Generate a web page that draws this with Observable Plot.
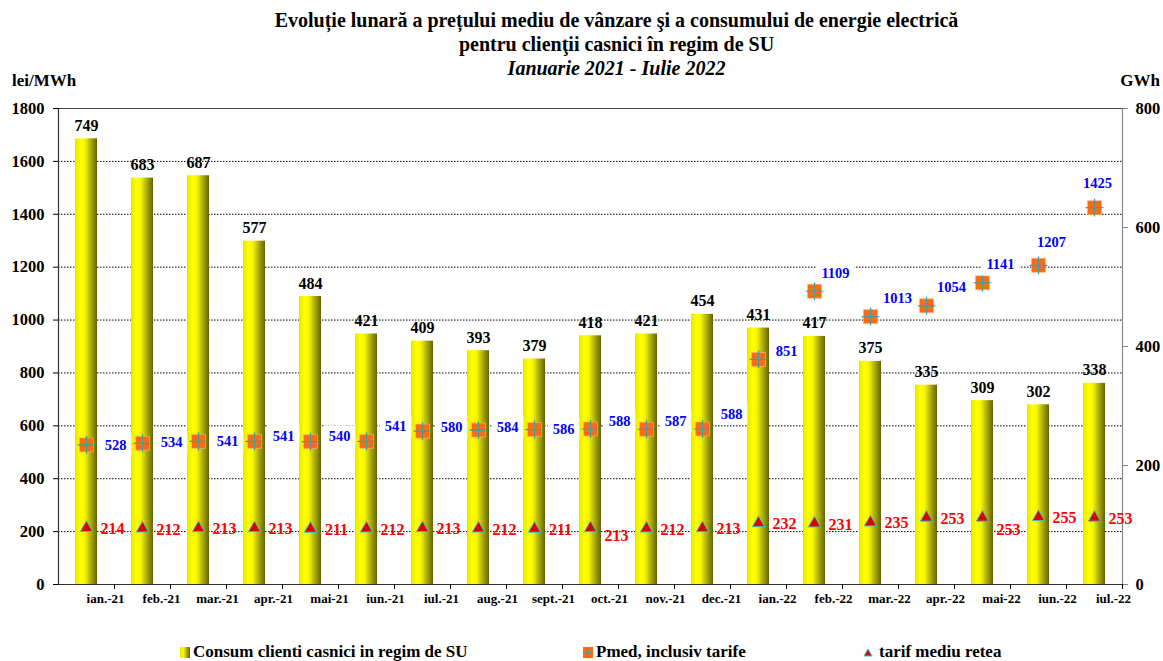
<!DOCTYPE html>
<html>
<head>
<meta charset="utf-8">
<script src="https://cdn.jsdelivr.net/npm/d3@7"></script>
<script src="https://cdn.jsdelivr.net/npm/@observablehq/plot@0.6"></script>
<style>
  body { margin: 0; background: #fff; font-family: "Liberation Serif", "DejaVu Serif", "Times New Roman", serif; }
  #wrap { position: relative; width: 1163px; height: 661px; overflow: hidden; }
  #title { position: absolute; top: 8px; left: 70px; right: 0; text-align: center;
           font-weight: bold; font-size: 20px; line-height: 24px; color: #000; }
  #title .sub { font-style: italic; }
  .unit { position: absolute; top: 71px; font-weight: bold; font-size: 17px; }
  #chart { position: absolute; top: 72px; left: 0; }
  #legend { position: absolute; top: 642px; left: 0; width: 1163px; height: 20px;
            font-weight: bold; font-size: 17px; }
  #legend .item { position: absolute; display: flex; align-items: center; gap: 2px; white-space: nowrap; }
</style>
</head>
<body>
<div id="wrap">
  <div id="title">
    <div>Evoluție lunară a prețului mediu de vânzare şi a consumului de energie electrică</div>
    <div>pentru clienţii casnici în regim de SU</div>
    <div class="sub">Ianuarie 2021 - Iulie 2022</div>
  </div>
  <div class="unit" style="left:12px">lei/MWh</div>
  <div class="unit" style="right:3px">GWh</div>
  <div id="chart"></div>
  <div id="legend">
    <div class="item" style="left:179px">
      <svg width="12" height="12"><defs><linearGradient id="lgBar" x1="0" x2="1" y1="0" y2="0">
        <stop offset="0" stop-color="#e6e600"/><stop offset="0.3" stop-color="#ffff00"/><stop offset="1" stop-color="#636300"/></linearGradient></defs>
        <rect x="1" y="1" width="10" height="11" fill="url(#lgBar)"/></svg>
      <span>Consum clienti casnici in regim de SU</span>
    </div>
    <div class="item" style="left:582px">
      <svg width="12" height="12"><rect x="1" y="1" width="10" height="11" fill="#ff6a13"/>
        <path d="M6,3V10M2.5,6.5H9.5" stroke="#3ca0a0" stroke-width="1.3"/></svg>
      <span>Pmed, inclusiv tarife</span>
    </div>
    <div class="item" style="left:861px">
      <svg width="16" height="12"><path d="M7,3L11,10H3Z" fill="#e00000" stroke="#33cccc" stroke-width="1"/></svg>
      <span>tarif mediu retea</span>
    </div>
  </div>
</div>
<script>
// Months, January 2021 – July 2022
const months = ["ian.-21","feb.-21","mar.-21","apr.-21","mai-21","iun.-21","iul.-21","aug.-21",
  "sept.-21","oct.-21","nov.-21","dec.-21","ian.-22","feb.-22","mar.-22","apr.-22","mai-22","iun.-22","iul.-22"];
// Household consumption under universal service (GWh, right axis)
const consum = [749,683,687,577,484,421,409,393,379,418,421,454,431,417,375,335,309,302,338];
// Average price incl. tariffs (lei/MWh, left axis)
const pmed = [528,534,541,541,540,541,580,584,586,588,587,588,851,1109,1013,1054,1141,1207,1425];
// Average network tariff (lei/MWh, left axis)
const tarif = [214,212,213,213,211,212,213,212,211,213,212,213,232,231,235,253,253,255,253];

const leftTicks = [0,200,400,600,800,1000,1200,1400,1600,1800];
const rightTicks = [0,200,400,600,800];
const gwhToLei = 1800 / 800;   // right axis is drawn against the left scale

// hand-placed value labels
const pmedNudge = {
  "ian.-21":[29,0],"feb.-21":[29,-1],"mar.-21":[29,0],"apr.-21":[29,-5],"mai-21":[29,-5],
  "iun.-21":[29,-15],"iul.-21":[29,-4],"aug.-21":[29,-3],"sept.-21":[29,0],"oct.-21":[29,-8],
  "nov.-21":[29,-8],"dec.-21":[29,-15],"ian.-22":[28,-8],"feb.-22":[21,-18],"mar.-22":[27,-18],
  "apr.-22":[25,-18],"mai-22":[18,-18],"iun.-22":[13,-23],"iul.-22":[3,-24]
};
const tarifNudge = {"oct.-21": 7, "mai-22": 11};

const rows = months.map((m, i) => ({
  month: m, consum: consum[i], pmed: pmed[i], tarif: tarif[i],
  pdx: pmedNudge[m][0], pdy: pmedNudge[m][1], tdy: 1 + (tarifNudge[m] || 0)
}));

// cylinder-like shading for the bars
const barGradient = () => {
  const defs = d3.create("svg:defs");
  const g = defs.append("linearGradient").attr("id", "barFill")
    .attr("x1", 0).attr("x2", 1).attr("y1", 0).attr("y2", 0);
  [[0, "#e6e600"], [0.25, "#ffff00"], [0.45, "#f4f400"], [1, "#636300"]]
    .forEach(([o, c]) => g.append("stop").attr("offset", o).attr("stop-color", c));
  return defs.node();
};

// shift each rendered label by its own offset
const nudge = (fx, fy, cls) => (index, scales, values, dims, ctx, next) => {
  const g = next(index, scales, values, dims, ctx);
  if (cls) g.setAttribute("class", (g.getAttribute("class") || "") + " " + cls);
  d3.select(g).selectAll("text").each(function(i) {
    const t = d3.select(this).attr("transform") || "";
    d3.select(this).attr("transform", `${t} translate(${fx(rows[i])},${fy(rows[i])})`);
  });
  return g;
};

const bold = {fontWeight: "bold"};

const chart = Plot.plot({
  width: 1163, height: 540,
  marginLeft: 58, marginRight: 41, marginTop: 36, marginBottom: 28,
  x: {domain: months, padding: 0, axis: null},
  y: {domain: [0, 1800], axis: null},
  style: {fontFamily: "'Liberation Serif', 'DejaVu Serif', 'Times New Roman', serif", background: "transparent", color: "#000", overflow: "visible"},
  marks: [
    barGradient,
    Plot.ruleY(leftTicks.filter(d => d > 0 && d < 1800), {stroke: "#000", strokeWidth: 1, strokeDasharray: "1.5,1.5"}),
    Plot.ruleY([1800], {stroke: "#444", strokeWidth: 1.2}),
    Plot.barY(rows, {x: "month", y: d => d.consum * gwhToLei, fill: "url(#barFill)", insetLeft: 17, insetRight: 17}),
    // axis lines
    Plot.ruleY([0], {stroke: "#333", strokeWidth: 1.2}),
    Plot.ruleX([months[0]], {dx: -28, stroke: "#333", strokeWidth: 1.2}),
    Plot.ruleX([months[months.length - 1]], {dx: 28, stroke: "#888", strokeWidth: 1.2}),
    Plot.axisY({ticks: leftTicks, anchor: "left", tickSize: 5, tickPadding: 9, fontSize: 16.5, ...bold,
      tickFormat: d => String(d), label: null}),
    Plot.axisY({ticks: rightTicks.map(d => d * gwhToLei), anchor: "right", tickSize: 5, tickPadding: 8,
      fontSize: 16.5, ...bold, tickFormat: d => String(Math.round(d / gwhToLei)), label: null, stroke: "#888"}),
    Plot.axisX({tickSize: 5, dx: 28, tickFormat: () => "", label: null}),
    Plot.axisX({tickSize: 0, tickPadding: 9, dx: 19, fontSize: 13, ...bold, label: null}),
    // consumption labels
    Plot.text(rows, {x: "month", y: d => d.consum * gwhToLei, text: d => String(d.consum), dy: -8,
      lineAnchor: "bottom", fontSize: 16, ...bold, fill: "#000"}),
    // average price markers and labels
    Plot.dot(rows, {x: "month", y: "pmed", symbol: "square", r: 7.9, fill: "#ff6a13", stroke: "#ffb27a", strokeWidth: 0.6}),
    Plot.dot(rows, {x: "month", y: "pmed", symbol: "plus", r: 5.8, stroke: "#3ca0a0", strokeWidth: 1.2}),
    Plot.text(rows, {x: "month", y: "pmed", text: d => String(d.pmed), fontSize: 14.5, ...bold,
      fill: "#0000ff", render: nudge(r => r.pdx, r => r.pdy, "pmed-labels")}),
    // network tariff markers and labels
    Plot.dot(rows, {x: "month", y: "tarif", symbol: "triangle", r: 4.6, fill: "#e00000", stroke: "#33cccc", strokeWidth: 1}),
    Plot.text(rows, {x: "month", y: "tarif", text: d => String(d.tarif), dx: 26, fontSize: 16, ...bold, fill: "#ff0000",
      render: nudge(() => 0, r => r.tdy)})
  ]
});
document.getElementById("chart").append(chart);

// white boxes behind the price labels
d3.select(chart).selectAll(".pmed-labels text").each(function() {
  const b = this.getBBox();
  d3.select(this.parentNode).insert("rect", () => this)
    .attr("transform", this.getAttribute("transform"))
    .attr("x", b.x - 5).attr("y", b.y - 3)
    .attr("width", b.width + 10).attr("height", b.height + 6)
    .attr("fill", "#fff").attr("stroke", "none");
});
</script>
</body>
</html>
